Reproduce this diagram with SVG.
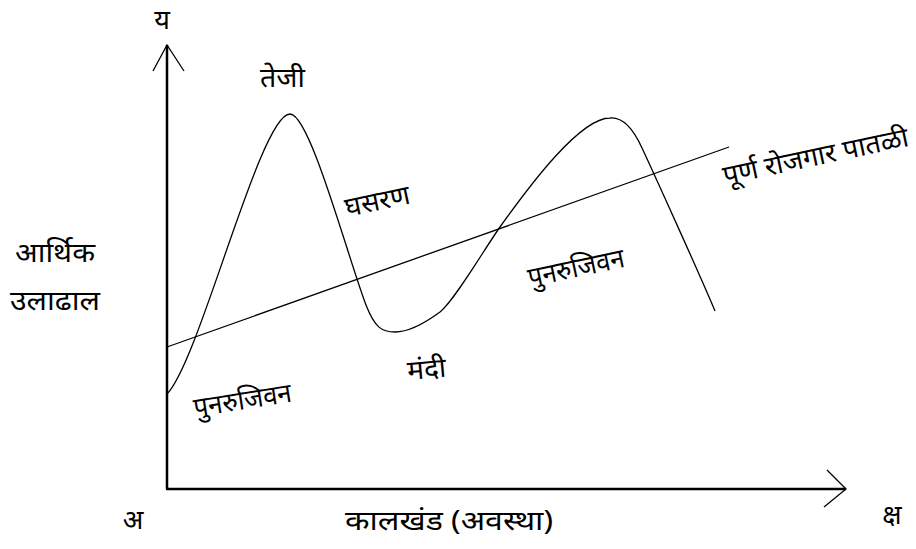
<svg xmlns="http://www.w3.org/2000/svg" width="916" height="549" viewBox="0 0 916 549">
<style>
text{font-family:"Noto Sans","Noto Sans Devanagari","Lohit Devanagari",sans-serif;font-size:27px;fill:#000}
.axis{stroke:#000;stroke-width:2.5;fill:none}
.thin{stroke:#000;stroke-width:1.3;fill:none}
</style>
<rect width="916" height="549" fill="#fff"/>
<g id="connectors">
<path class="axis" d="M167,489 L167,45"/>
<path class="thin" d="M153,71 L167,45 L184,71"/>
<path class="axis" d="M166,489 L846,489"/>
<path class="thin" d="M827,470 L846,489 L824,507"/>
<path id="full-employment-line" class="thin" d="M167,347 L729,147"/>
<path id="cycle-curve" class="thin" d="M167,394 C200,360 260,114 290,114 C310,114 348,258 366,305 C375,328 382,332 395,332 C410,332 425,323 440,312 C455,300 485,248 500,227 C530,185 580,118 610,118 C622,117 632,126 642,148 C650,165 700,275 715,311"/>
</g>
<g id="label-y"><text x="162" y="29" text-anchor="middle" font-size="25">य</text></g>
<g id="label-origin"><text x="133" y="529" text-anchor="middle">अ</text></g>
<g id="label-x"><text x="892" y="524" text-anchor="middle">क्ष</text></g>
<g id="label-xaxis"><text x="345" y="530" textLength="208" lengthAdjust="spacingAndGlyphs">कालखंड (अवस्था)</text></g>
<g id="label-yaxis"><text x="15" y="262" textLength="80" lengthAdjust="spacingAndGlyphs">आर्थिक</text><text x="10" y="310" textLength="90" lengthAdjust="spacingAndGlyphs">उलाढाल</text></g>
<g id="label-boom"><text x="260" y="87" textLength="45" lengthAdjust="spacingAndGlyphs">तेजी</text></g>
<g id="label-recession"><text x="347" y="217" transform="rotate(-12 347 217)" textLength="66" lengthAdjust="spacingAndGlyphs">घसरण</text></g>
<g id="label-depression"><text x="408" y="380" transform="rotate(-5 408 380)" textLength="39" lengthAdjust="spacingAndGlyphs">मंदी</text></g>
<g id="label-recovery1"><text x="195" y="417" transform="rotate(-9 195 417)" textLength="99" lengthAdjust="spacingAndGlyphs">पुनरुजिवन</text></g>
<g id="label-recovery2"><text x="530" y="287" transform="rotate(-12 530 287)" textLength="98" lengthAdjust="spacingAndGlyphs">पुनरुजिवन</text></g>
<g id="label-fullemp"><text x="725" y="185" transform="rotate(-12 725 185)" textLength="189" lengthAdjust="spacingAndGlyphs">पूर्ण रोजगार पातळी</text></g>
</svg>
